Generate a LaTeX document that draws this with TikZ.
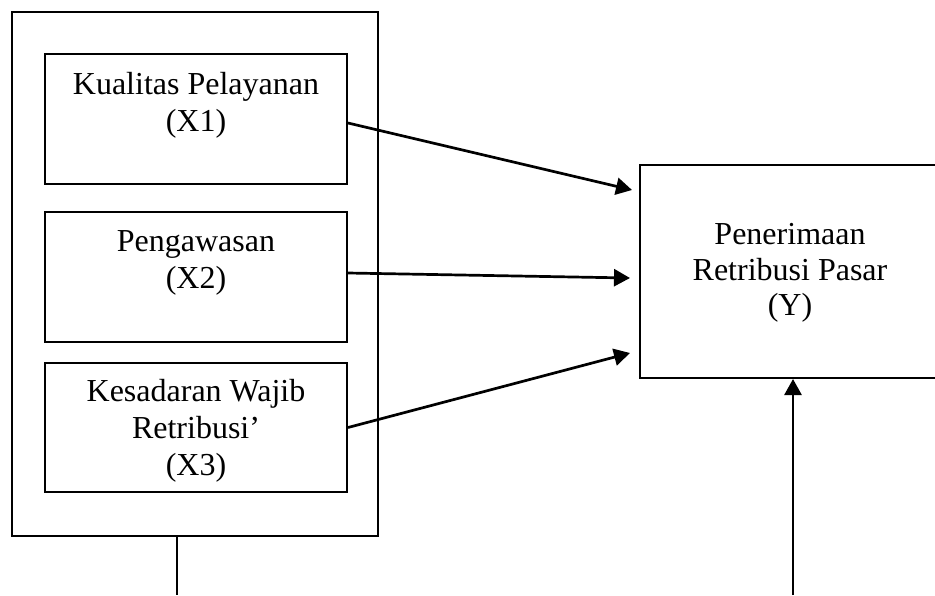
\documentclass[tikz,border=0pt]{standalone}
\usepackage{fontspec}
\setmainfont{Liberation Serif}
\usetikzlibrary{positioning,calc,arrows.meta}

\begin{document}
\begin{tikzpicture}[x=0.5pt,y=-0.5pt,
    box/.style={draw,line width=1pt,rectangle,inner sep=0pt},
    txt/.style={align=center,inner sep=0pt,font=\fontsize{16}{18.5}\selectfont},
    arr/.style={line width=1.35pt,-{Triangle[length=8pt,width=8.5pt]}}]
    \clip (0,0) rectangle (935,595);
    \useasboundingbox (0,0) rectangle (935,595);

    % Variabel bebas
    \node[box,minimum width=183pt,minimum height=262pt] (outer) at (195,274) {};
    \node[box,minimum width=151pt,minimum height=65pt] (x1) at (196,119) {};
    \node[box,minimum width=151pt,minimum height=65pt] (x2) at (196,277) {};
    \node[box,minimum width=151pt,minimum height=64.5pt] (x3) at (196,427.5) {};
    \node[txt,anchor=north] (t1) at ([yshift=-9.5pt]x1.north) {Kualitas Pelayanan\\(X1)};
    \node[txt,anchor=north] (t2) at ([yshift=-9.5pt]x2.north) {Pengawasan\\(X2)};
    \node[txt,anchor=north] (t3) at ([yshift=-8.5pt]x3.north) {Kesadaran Wajib\\Retribusi’\\(X3)};

    % Variabel terikat
    \node[box,minimum width=150.5pt,minimum height=106.5pt] (y) at (790.5,271.5) {};
    \node[txt,font=\fontsize{16}{17.75}\selectfont] (ty) at (790,273) {Penerimaan\\Retribusi Pasar\\(Y)};

    % Panah
    \path (y.west) ++(-7,-81.5) coordinate (y1);
    \path (y.west) ++(-9,6.5) coordinate (y2);
    \path (y.west) ++(-9,81.5) coordinate (y3);
    \draw[arr] ([yshift=-2pt]x1.east) -- (y1);
    \draw[arr] ([yshift=2pt]x2.east) -- (y2);
    \draw[arr] (x3.east) -- (y3);

    % Garis bawah
    \coordinate (bl) at (177,595);
    \coordinate (br) at (793,595);
    \draw[line width=1pt] (bl |- outer.south) -- (bl);
    \draw[arr] (br) -- (br |- y.south);
\end{tikzpicture}
\end{document}
